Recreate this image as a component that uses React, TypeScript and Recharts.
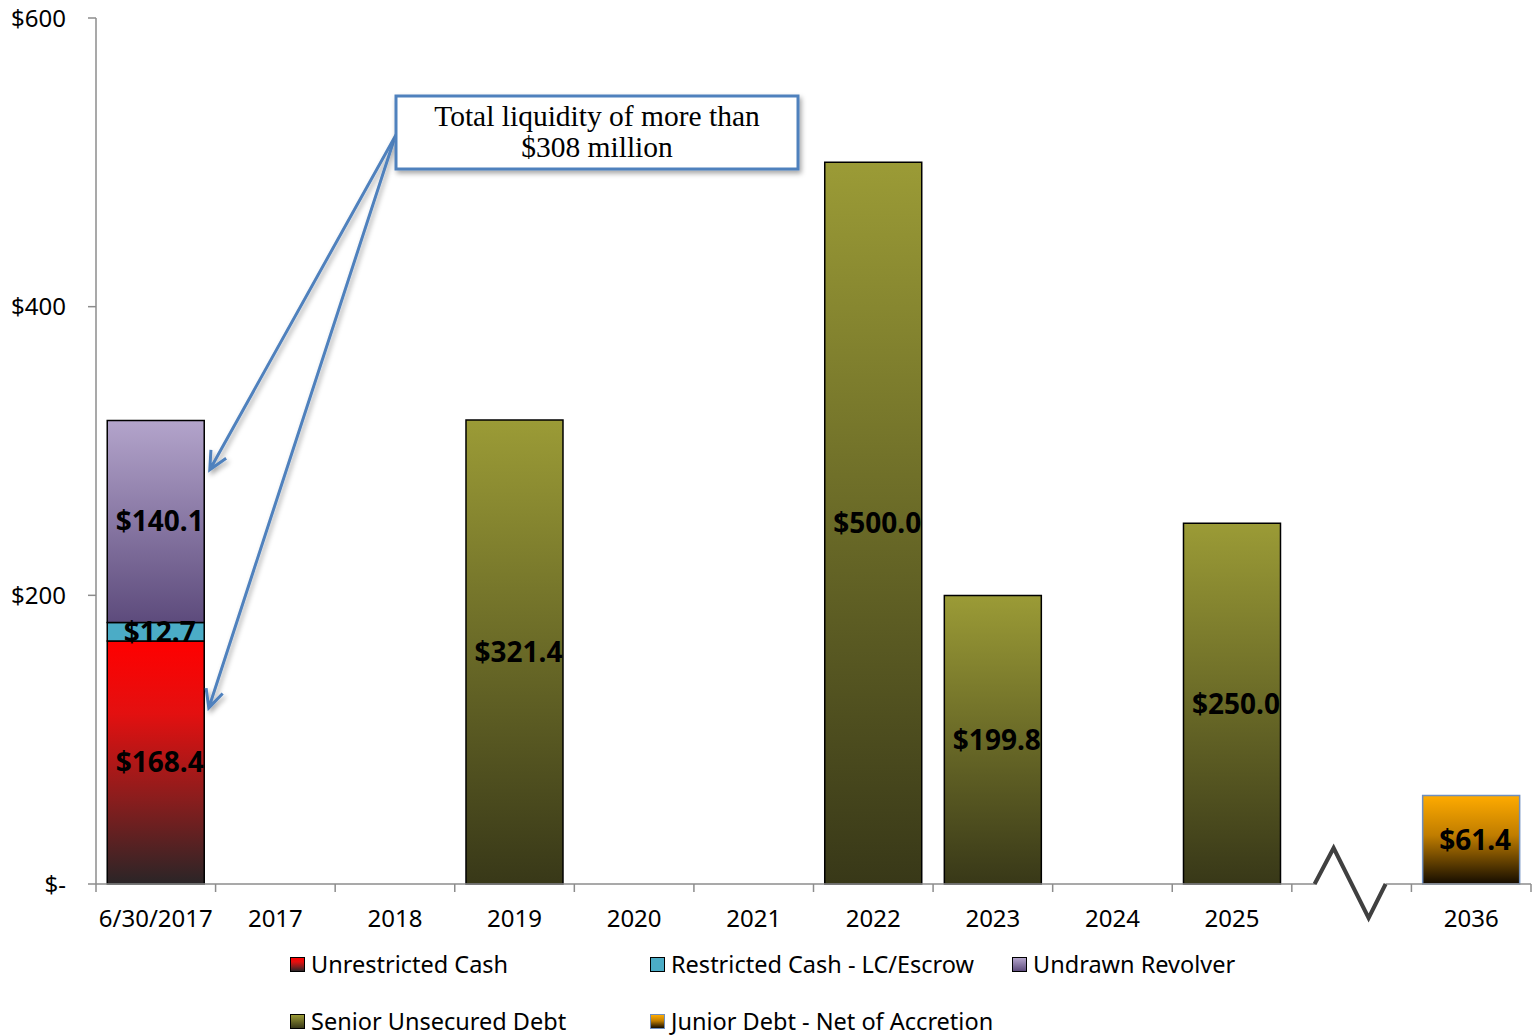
import React from "react";
import { BarChart, Bar, XAxis, YAxis, LabelList } from "recharts";

const categories = [
  "6/30/2017", "2017", "2018", "2019", "2020", "2021",
  "2022", "2023", "2024", "2025", "", "2036",
];
const unrestrictedCash = [168.4, null, null, null, null, null, null, null, null, null, null, null];
const restrictedCash = [12.7, null, null, null, null, null, null, null, null, null, null, null];
const undrawnRevolver = [140.1, null, null, null, null, null, null, null, null, null, null, null];
const seniorUnsecuredDebt = [null, null, null, 321.4, null, null, 500.0, 199.8, null, 250.0, null, null];
const juniorDebt = [null, null, null, null, null, null, null, null, null, null, null, 61.4];
const yTicks = [0, 200, 400, 600];

const series = [
  { key: "unrestricted", name: "Unrestricted Cash", values: unrestrictedCash, grad: "gRed", stroke: "#000",
    stops: [["0%", "#ff0000"], ["30%", "#e31010"], ["65%", "#8a1d1d"], ["100%", "#2a2527"]] },
  { key: "restricted", name: "Restricted Cash - LC/Escrow", values: restrictedCash, grad: "gCyan", stroke: "#000",
    stops: [["0%", "#4bacc6"], ["100%", "#4bacc6"]] },
  { key: "revolver", name: "Undrawn Revolver", values: undrawnRevolver, grad: "gPurple", stroke: "#000",
    stops: [["0%", "#b3a4cb"], ["100%", "#5d4b7c"]] },
  { key: "senior", name: "Senior Unsecured Debt", values: seniorUnsecuredDebt, grad: "gOlive", stroke: "#000",
    stops: [["0%", "#9b9b36"], ["100%", "#383818"]] },
  { key: "junior", name: "Junior Debt - Net of Accretion", values: juniorDebt, grad: "gOrange", stroke: "#6e8fc0",
    stops: [["0%", "#ffab00"], ["45%", "#c07d00"], ["100%", "#140c00"]] },
];

const data = categories.map((c, i) => {
  const row: { [k: string]: string | number | null } = { cat: c };
  series.forEach((s) => (row[s.key] = s.values[i]));
  return row;
});

// layout
const W = 1532;
const H = 1035;
const PLOT_LEFT = 96;
const PLOT_RIGHT = 1531;
const PLOT_TOP = 18;
const PLOT_BOTTOM = 884;
const CAT_W = (PLOT_RIGHT - PLOT_LEFT) / categories.length;
const yPx = (v: number) => PLOT_TOP + (1 - v / 600) * (PLOT_BOTTOM - PLOT_TOP);

const AXIS_COLOR = "#8c8c8c";
const FONT = "'Noto Sans', sans-serif";

const money = (v: any) => (v == null ? "" : `$${Number(v).toFixed(1)}`);

const XTick = (props: any) => {
  const { x, y, payload, index } = props;
  const isBreak = payload.value === "";
  const isLast = index === categories.length - 1;
  return (
    <g>
      <line x1={x - CAT_W / 2} x2={x - CAT_W / 2} y1={y} y2={y + 8} stroke={AXIS_COLOR} strokeWidth={1.5} />
      {isLast && (
        <line x1={x + CAT_W / 2} x2={x + CAT_W / 2} y1={y} y2={y + 8} stroke={AXIS_COLOR} strokeWidth={1.5} />
      )}
      {isBreak ? (
        <g>
          <line x1={x - 36} x2={x + 34} y1={y} y2={y} stroke="#fff" strokeWidth={4} />
          <polyline
            points={`${x - 37},${y} ${x - 18},${y - 36} ${x + 17},${y + 34} ${x + 34},${y}`}
            fill="none"
            stroke="#404040"
            strokeWidth={4}
          />
        </g>
      ) : (
        <text x={x} y={y + 43} textAnchor="middle" fontFamily={FONT} fontSize={24} fill="#000">
          {payload.value}
        </text>
      )}
    </g>
  );
};

const arrow = (x1: number, y1: number, x2: number, y2: number) => {
  const a = Math.atan2(y2 - y1, x2 - x1);
  const L = 20;
  const s = 0.45;
  const w1 = [x2 - L * Math.cos(a - s), y2 - L * Math.sin(a - s)];
  const w2 = [x2 - L * Math.cos(a + s), y2 - L * Math.sin(a + s)];
  return `M${x1},${y1} L${x2},${y2} M${w1[0]},${w1[1]} L${x2},${y2} L${w2[0]},${w2[1]}`;
};

const barRight = PLOT_LEFT + CAT_W / 2 + 48;

export default function App() {
  return (
    <div style={{ position: "absolute", left: 0, top: 0, width: W, height: H, background: "#fff" }}>
      <BarChart
        width={W}
        height={H}
        data={data}
        margin={{ top: PLOT_TOP, right: W - PLOT_RIGHT, left: 10, bottom: 101 }}
        barCategoryGap="9.4%"
      >
        <defs>
          {series.map((s) => (
            <linearGradient key={s.grad} id={s.grad} x1="0" y1="0" x2="0" y2="1">
              {s.stops.map(([o, c]) => (
                <stop key={o} offset={o} stopColor={c} />
              ))}
            </linearGradient>
          ))}
        </defs>
        <XAxis
          dataKey="cat"
          height={50}
          tickSize={0}
          tickMargin={0}
          tickLine={false}
          interval={0}
          axisLine={{ stroke: AXIS_COLOR, strokeWidth: 1.5 }}
          tick={<XTick />}
        />
        <YAxis
          width={86}
          domain={[0, 600]}
          ticks={yTicks}
          interval={0}
          tickSize={8}
          tickMargin={22}
          axisLine={{ stroke: AXIS_COLOR, strokeWidth: 1.5 }}
          tickLine={{ stroke: AXIS_COLOR, strokeWidth: 1.5 }}
          tick={{ fontFamily: FONT, fontSize: 24, fill: "#000" }}
          tickFormatter={(v: number) => (v === 0 ? "$-" : `$${v}`)}
        />
        {series.map((s) => (
          <Bar
            key={s.key}
            dataKey={s.key}
            name={s.name}
            stackId="a"
            fill={`url(#${s.grad})`}
            stroke={s.stroke}
            strokeWidth={1.5}
            isAnimationActive={false}
          >
            <LabelList
              dataKey={s.key}
              position="center"
              formatter={money}
              offset={0}
              style={{ fontFamily: FONT, fontSize: 28, fontWeight: 700, fill: "#000", transform: "translateX(4px)" }}
            />
          </Bar>
        ))}
      </BarChart>

      {/* annotation */}
      <svg width={W} height={H} style={{ position: "absolute", left: 0, top: 0, pointerEvents: "none" }}>
        <defs>
          <filter id="shadow" x="-10%" y="-20%" width="130%" height="150%">
            <feDropShadow dx="2" dy="3" stdDeviation="2.5" floodColor="#000" floodOpacity="0.35" />
          </filter>
        </defs>
        <g filter="url(#shadow)" fill="none" stroke="#4f81bd" strokeWidth={3}>
          <path d={arrow(397, 133, barRight + 6, yPx(287))} />
          <path d={arrow(394, 140, barRight + 5, yPx(122))} />
        </g>
        <rect x={396} y={96} width={402} height={73} fill="#fff" stroke="#4f81bd" strokeWidth={3} filter="url(#shadow)" />
        <text x={597} y={126} textAnchor="middle" fontFamily="'Liberation Serif', serif" fontSize={29.5} fill="#000">
          Total liquidity of more than
        </text>
        <text x={597} y={157} textAnchor="middle" fontFamily="'Liberation Serif', serif" fontSize={29.5} fill="#000">
          $308 million
        </text>
      </svg>

      {/* legend */}
      {series.map((s, i) => {
        const col = i < 3 ? i : i - 3;
        const row = i < 3 ? 0 : 1;
        const left = [290, 650, 1012][col];
        const top = [964, 1021][row];
        const grad = `linear-gradient(to bottom, ${s.stops.map(([o, c]) => `${c} ${o}`).join(", ")})`;
        return (
          <div
            key={s.key}
            style={{
              position: "absolute",
              left,
              top: top - 15,
              height: 30,
              display: "flex",
              alignItems: "center",
              fontFamily: FONT,
              fontSize: 23.5,
              color: "#000",
              whiteSpace: "nowrap",
            }}
          >
            <span
              style={{
                display: "inline-block",
                width: 13,
                height: 13,
                border: `1.5px solid ${s.key === "junior" ? "#6e8fc0" : "#000"}`,
                background: grad,
                marginRight: 6,
              }}
            />
            {s.name}
          </div>
        );
      })}
    </div>
  );
}
